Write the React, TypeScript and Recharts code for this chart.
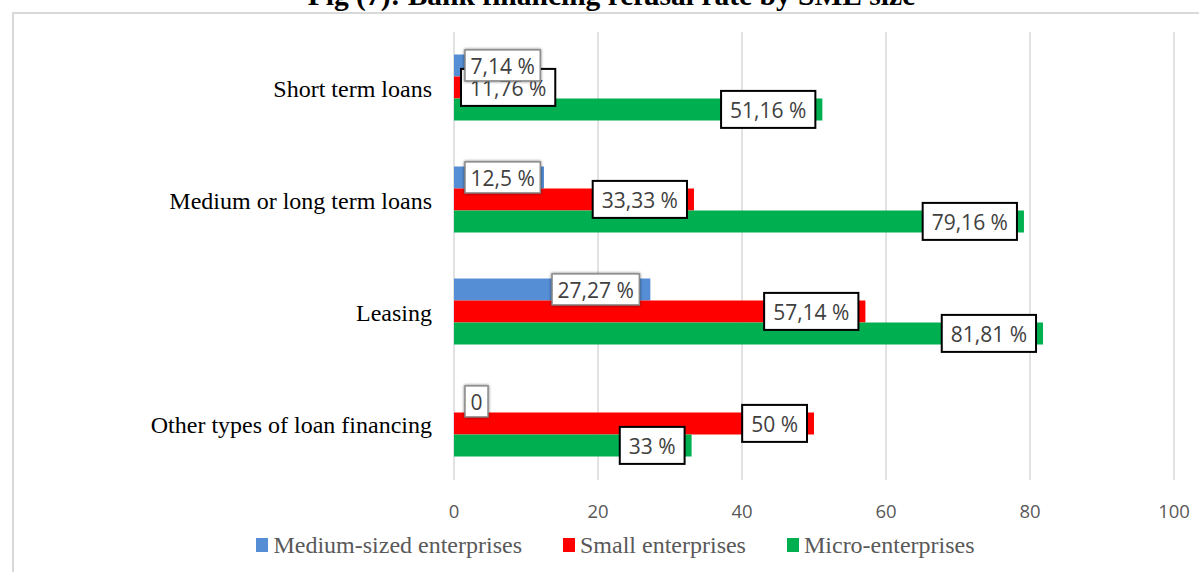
import { Bar, BarChart, CartesianGrid, LabelList, Legend, XAxis, YAxis } from "recharts"

const categories = ["Short term loans", "Medium or long term loans", "Leasing", "Other types of loan financing"]
const mediumSized = [7.14, 12.5, 27.27, 0]
const small = [11.76, 33.33, 57.14, 50]
const micro = [51.16, 79.16, 81.81, 33]
const xTicks = [0, 20, 40, 60, 80, 100]

const series = [
  { key: "medium", name: "Medium-sized enterprises", color: "#558ed5" },
  { key: "small", name: "Small enterprises", color: "#ff0000" },
  { key: "micro", name: "Micro-enterprises", color: "#00b050" },
]

const data = categories.map((name, i) => ({
  name,
  medium: mediumSized[i],
  small: small[i],
  micro: micro[i],
}))

const LABEL_FONT = "21px 'Open Sans'"
const SERIF = "'Liberation Serif', 'Times New Roman', serif"

let ctx: CanvasRenderingContext2D | null = null
function textWidth(s: string) {
  if (!ctx) ctx = document.createElement("canvas").getContext("2d")
  if (!ctx) return s.length * 11
  ctx.font = LABEL_FONT
  return ctx.measureText(s).width
}

const fmt = (v: number) => (v === 0 ? "0" : `${String(v).replace(".", ",")} %`)

// one label box, right-aligned inside the bar end, pushed right when the bar is short
function LabelBox({ x, y, width, height, value, soft }: any) {
  const text = fmt(value)
  const pad = soft ? 5.5 : 9
  const h = soft ? 31 : 37
  const inset = soft ? 11 : 7
  const w = textWidth(text) + pad * 2
  const right = x + width - inset
  const left = Math.max(x + inset, right - w)
  const cy = y + height / 2
  return (
    <g>
      <rect
        x={left}
        y={cy - h / 2}
        width={w}
        height={h}
        fill="#fff"
        stroke={soft ? "#8c8c8c" : "#000"}
        strokeWidth={soft ? 1.5 : 2}
        style={soft ? { filter: "drop-shadow(0 0 1.5px rgba(0,0,0,0.55))" } : undefined}
      />
      <text
        x={left + w / 2}
        y={cy + 1}
        textAnchor="middle"
        dominantBaseline="central"
        fill="#404040"
        style={{ font: LABEL_FONT }}
      >
        {text}
      </text>
    </g>
  )
}

// small-bar labels, with the medium-sized label drawn on top of them
// (the medium bar sits right above the small bar and shares its scale)
function smallLabel(props: any) {
  const x = Number(props.x)
  const y = Number(props.y)
  const width = Number(props.width)
  const height = Number(props.height)
  const v = Number(props.value)
  const i = Number(props.index)
  const mv = mediumSized[i]
  const perUnit = v ? width / v : 0
  return (
    <g>
      <LabelBox x={x} y={y} width={width} height={height} value={v} />
      <LabelBox x={x} y={y - height} width={mv * perUnit} height={height} value={mv} soft />
    </g>
  )
}

function microLabel(props: any) {
  return (
    <LabelBox
      x={Number(props.x)}
      y={Number(props.y)}
      width={Number(props.width)}
      height={Number(props.height)}
      value={Number(props.value)}
    />
  )
}

function LegendContent() {
  return (
    <div
      style={{
        display: "flex",
        justifyContent: "center",
        alignItems: "center",
        height: 36,
        gap: 41,
        fontFamily: SERIF,
        fontSize: 24,
        color: "#595959",
      }}
    >
      {series.map((s) => (
        <div key={s.key} style={{ display: "flex", alignItems: "center" }}>
          <span style={{ width: 12, height: 14, background: s.color, display: "inline-block", marginRight: 5 }} />
          <span>{s.name}</span>
        </div>
      ))}
    </div>
  )
}

export default function App() {
  return (
    <div style={{ position: "absolute", left: 0, top: 0, width: 1199, height: 572, overflow: "hidden", background: "#fff" }}>
      <div
        style={{
          position: "absolute",
          left: 12,
          top: 12,
          width: 1400,
          height: 800,
          border: "2px solid #d9d9d9",
        }}
      />
      <div
        style={{
          position: "absolute",
          left: 12,
          top: -19,
          width: 1199,
          textAlign: "center",
          fontFamily: SERIF,
          fontWeight: "bold",
          fontSize: 29.5,
          lineHeight: "29px",
          color: "#000",
          whiteSpace: "nowrap",
        }}
      >
        Fig (7): Bank financing refusal rate by SME size
      </div>
      <div style={{ position: "absolute", left: 0, top: 0 }}>
        <BarChart
          width={1199}
          height={572}
          data={data}
          layout="vertical"
          margin={{ top: 32, right: 25, bottom: 0, left: 0 }}
          barCategoryGap="20%"
          barGap={0}
        >
          <CartesianGrid horizontal={false} stroke="#d9d9d9" strokeWidth={1.5} />
          <XAxis
            type="number"
            domain={[0, 100]}
            ticks={xTicks}
            axisLine={false}
            tickLine={false}
            height={56}
            tickMargin={19}
            tick={{ fill: "#595959", fontSize: 18.5, fontFamily: "'Open Sans'" }}
          />
          <YAxis
            type="category"
            dataKey="name"
            width={454}
            axisLine={false}
            tickLine={false}
            tickMargin={16}
            tick={{ fill: "#000", fontSize: 24, fontFamily: SERIF }}
          />
          <Legend verticalAlign="bottom" content={LegendContent} wrapperStyle={{ left: 16, width: 1199, bottom: 9 }} />
          <Bar dataKey="medium" name={series[0].name} fill={series[0].color} isAnimationActive={false} />
          <Bar dataKey="small" name={series[1].name} fill={series[1].color} isAnimationActive={false}>
            <LabelList dataKey="small" content={smallLabel} />
          </Bar>
          <Bar dataKey="micro" name={series[2].name} fill={series[2].color} isAnimationActive={false}>
            <LabelList dataKey="micro" content={microLabel} />
          </Bar>
        </BarChart>
      </div>
    </div>
  )
}
